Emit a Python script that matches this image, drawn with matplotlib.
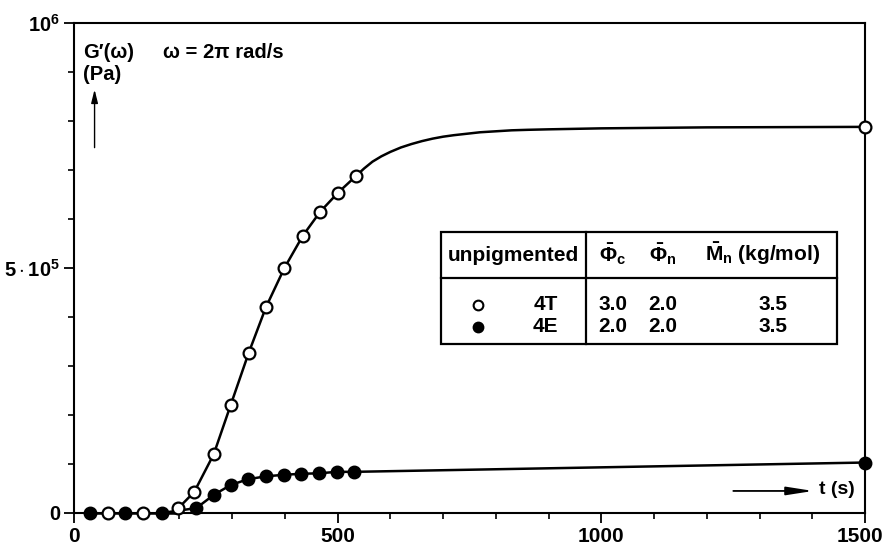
import numpy as np
import matplotlib
matplotlib.use("Agg")
import matplotlib.pyplot as plt
import matplotlib.transforms as mtransforms
from matplotlib.ticker import MultipleLocator, FixedLocator

plt.rcParams['font.family'] = ['Liberation Sans', 'DejaVu Sans']
plt.rcParams['font.weight'] = 'bold'
plt.rcParams['mathtext.fontset'] = 'custom'
plt.rcParams['mathtext.rm'] = 'Liberation Sans:bold'
plt.rcParams['mathtext.it'] = 'Liberation Sans:bold'
plt.rcParams['mathtext.bf'] = 'Liberation Sans:bold'

# 4T (open circles)
t_4t = [65, 131, 198, 228, 265, 297, 331, 364, 399, 434, 467, 501, 535]
g_4t = [0, 0, 1.0e4, 4.3e4, 1.2e5, 2.2e5, 3.26e5, 4.2e5, 5.0e5, 5.66e5, 6.15e5, 6.54e5, 6.88e5]
t_4t_end = [1500]
g_4t_end = [7.88e5]
# smooth fit line of 4T beyond the last early point
t_4t_fit = [535, 550, 566, 583, 600, 620, 640, 660, 680, 700, 720, 745, 770, 800, 830, 860, 900,
            1000, 1200, 1500]
g_4t_fit = [6.88e5, 7.03e5, 7.17e5, 7.28e5, 7.37e5, 7.46e5, 7.53e5, 7.59e5, 7.64e5, 7.68e5,
            7.71e5, 7.74e5, 7.77e5, 7.79e5, 7.81e5, 7.82e5, 7.83e5, 7.85e5, 7.87e5, 7.88e5]

# 4E (filled circles)
t_4e = [30, 97, 166, 232, 265, 297, 330, 365, 399, 430, 465, 498, 531]
g_4e = [0, 0, 0, 1.0e4, 3.7e4, 5.7e4, 6.9e4, 7.5e4, 7.8e4, 8.0e4, 8.1e4, 8.4e4, 8.4e4]
t_4e_end = [1500]
g_4e_end = [1.03e5]

fig = plt.figure(figsize=(8.86, 5.45), dpi=100)
ax = fig.add_axes([74 / 886, 1 - 513 / 545, (865 - 74) / 886, (513 - 23) / 545])

lw = 1.8
# zero baseline joining early points
ax.plot([t_4e[0], 198], [0, 0], color='black', lw=lw, zorder=2, clip_on=False)
ax.plot(t_4t[2:], g_4t[2:], color='black', lw=lw, zorder=2)
ax.plot(t_4t_fit, g_4t_fit, color='black', lw=lw, zorder=2, solid_joinstyle='round')
ax.plot(t_4e[2:] + t_4e_end, g_4e[2:] + g_4e_end, color='black', lw=lw, zorder=2)

ms = 8.5
ax.plot(t_4e + t_4e_end, g_4e + g_4e_end, 'o', color='black', ms=ms,
        mec='black', mew=1.5, zorder=4, clip_on=False, linestyle='none')
ax.plot(t_4t + t_4t_end, g_4t + g_4t_end, 'o', mfc='white', mec='black', ms=ms,
        mew=1.6, zorder=5, clip_on=False, linestyle='none')

ax.set_xlim(0, 1500)
ax.set_ylim(0, 1e6)
ax.xaxis.set_major_locator(FixedLocator([0, 500, 1000, 1500]))
ax.xaxis.set_minor_locator(MultipleLocator(100))
ax.yaxis.set_major_locator(FixedLocator([0, 5e5, 1e6]))
ax.yaxis.set_minor_locator(MultipleLocator(1e5))
ax.set_xticklabels(['0', '500', '1000', '1500'])
ax.set_yticklabels(['0', r'$5\cdot10^5$', r'$10^6$'])
ax.tick_params(which='major', direction='out', length=7, width=1.3, labelsize=15, pad=3)
ax.tick_params(axis='y', which='major', labelsize=14.5)
ax.tick_params(which='minor', direction='out', length=4, width=1.2)
for s in ax.spines.values():
    s.set_linewidth(1.5)

# nudge the last x label inside the figure, as in the original
last = ax.get_xticklabels()[-1]
last.set_transform(last.get_transform() + mtransforms.ScaledTranslation(-5 / 100, 0, fig.dpi_scale_trans))

# axis annotations
ax.text(0.012, 0.94, "G\u2032(\u03c9)", transform=ax.transAxes,
        fontsize=14.5, fontweight='bold', ha='left', va='center')
ax.text(0.012, 0.895, "(Pa)", transform=ax.transAxes, fontsize=14.5, fontweight='bold',
        ha='left', va='center')
ax.annotate('', xy=(0.026, 0.87), xytext=(0.026, 0.74), xycoords='axes fraction',
            arrowprops=dict(arrowstyle='-|>,head_length=0.8,head_width=0.2', color='black', lw=1.0))
ax.text(0.112, 0.94, "\u03c9 = 2\u03c0 rad/s", transform=ax.transAxes, fontsize=14.5,
        fontweight='bold', ha='left', va='center')
ax.text(0.942, 0.047, "t (s)", transform=ax.transAxes, fontsize=14, fontweight='bold',
        ha='left', va='center')
ax.annotate('', xy=(0.938, 0.045), xytext=(0.83, 0.045), xycoords='axes fraction',
            arrowprops=dict(arrowstyle='-|>,head_length=1.6,head_width=0.25', color='black', lw=1.3))


# table box in figure pixels
def px(x, y):
    return (x / 886, 1 - y / 545)


box_l, box_r, box_t, box_b = 441, 837, 232, 344
fig.add_artist(plt.Rectangle(px(box_l, box_b), (box_r - box_l) / 886, (box_b - box_t) / 545,
                             fill=False, lw=1.6, color='black', transform=fig.transFigure))
fig.add_artist(plt.Line2D([box_l / 886, box_r / 886], [1 - 278 / 545] * 2, lw=1.6, color='black'))
fig.add_artist(plt.Line2D([586 / 886] * 2, [1 - box_t / 545, 1 - box_b / 545], lw=1.6, color='black'))

fs = 15
fig.text(*px(513, 255), "unpigmented", fontsize=fs, ha='center', va='center')
fig.text(*px(613, 254), r'$\bar{\Phi}_\mathrm{c}$', fontsize=fs, ha='center', va='center')
fig.text(*px(663, 254), r'$\bar{\Phi}_\mathrm{n}$', fontsize=fs, ha='center', va='center')
fig.text(*px(763, 254), r'$\bar{M}_\mathrm{n}$ (kg/mol)', fontsize=fs, ha='center', va='center')

rows = [("4T", "3.0", "2.0", "3.5", 'white'), ("4E", "2.0", "2.0", "3.5", 'black')]
for i, (name, pc, pn, mn, fc) in enumerate(rows):
    y = 305 + 22 * i
    fig.add_artist(plt.Line2D([478 / 886], [1 - y / 545], marker='o', ms=7, mfc=fc, mec='black',
                              mew=1.5, linestyle='none'))
    fig.text(*px(558, y), name, fontsize=fs, ha='right', va='center')
    fig.text(*px(613, y), pc, fontsize=fs, ha='center', va='center')
    fig.text(*px(663, y), pn, fontsize=fs, ha='center', va='center')
    fig.text(*px(773, y), mn, fontsize=fs, ha='center', va='center')

fig.savefig("out.png", dpi=100)
